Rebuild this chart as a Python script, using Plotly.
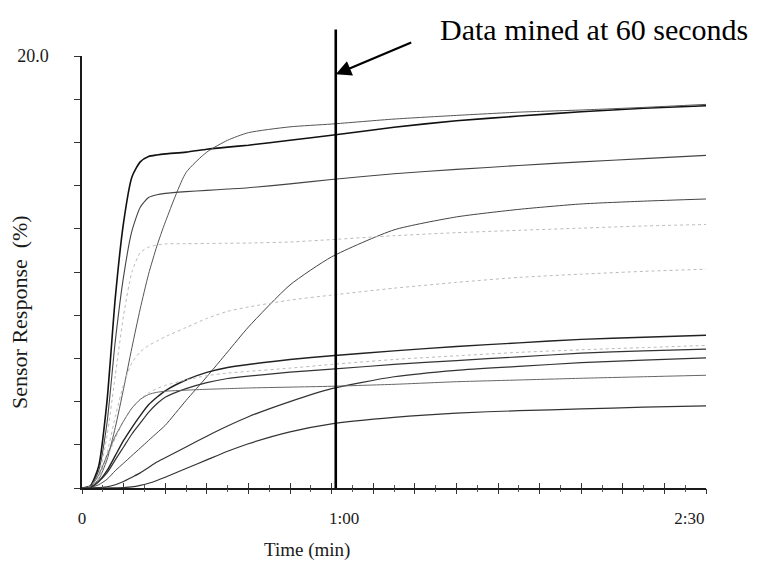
import plotly.graph_objects as go

# Time in seconds
T = [0, 2, 4, 6, 8, 10, 12, 14, 16, 18, 20, 25, 30, 35, 40, 50, 60, 75, 90, 105, 120, 135, 150]

A = [0, 0.1, 1.0, 4.0, 8.8, 12.3, 14.4, 15.1, 15.35, 15.42, 15.47, 15.55, 15.68, 15.78, 15.87, 16.1, 16.33, 16.7, 17.0, 17.22, 17.42, 17.58, 17.7]
B = [0, 0.05, 0.4, 1.3, 2.8, 4.6, 6.5, 8.3, 9.9, 11.2, 12.3, 14.6, 15.55, 16.1, 16.45, 16.72, 16.85, 17.08, 17.25, 17.4, 17.5, 17.62, 17.76]
C = [0, 0.08, 0.8, 3.0, 6.8, 9.8, 11.9, 13.0, 13.45, 13.58, 13.64, 13.72, 13.78, 13.84, 13.9, 14.08, 14.28, 14.55, 14.75, 14.93, 15.1, 15.25, 15.4]
D = [0, 0.02, 0.15, 0.4, 0.8, 1.15, 1.5, 1.85, 2.2, 2.55, 2.9, 4.05, 5.15, 6.3, 7.45, 9.4, 10.7, 11.95, 12.55, 12.9, 13.15, 13.28, 13.38]
E = [0, 0.08, 0.6, 2.4, 5.2, 8.0, 10.0, 10.9, 11.15, 11.25, 11.3, 11.31, 11.32, 11.33, 11.34, 11.39, 11.5, 11.68, 11.82, 11.93, 12.03, 12.13, 12.2]
F = [0, 0.05, 0.4, 1.6, 3.3, 4.8, 5.8, 6.3, 6.6, 6.8, 7.0, 7.43, 7.85, 8.18, 8.38, 8.7, 8.93, 9.25, 9.52, 9.75, 9.9, 10.03, 10.13]
G = [0, 0.03, 0.3, 0.8, 1.5, 2.2, 2.8, 3.35, 3.85, 4.2, 4.5, 5.0, 5.35, 5.58, 5.72, 5.95, 6.12, 6.35, 6.55, 6.72, 6.88, 6.98, 7.07]
H = [0, 0.03, 0.5, 1.4, 2.3, 3.1, 3.7, 4.1, 4.4, 4.6, 4.75, 5.0, 5.2, 5.32, 5.4, 5.55, 5.72, 5.95, 6.12, 6.28, 6.4, 6.5, 6.6]
I = [0, 0.02, 0.3, 0.7, 1.3, 1.9, 2.5, 3.0, 3.5, 3.9, 4.2, 4.6, 4.88, 5.07, 5.18, 5.36, 5.5, 5.72, 5.9, 6.07, 6.24, 6.35, 6.43]
J = [0, 0.0, 0.02, 0.05, 0.15, 0.3, 0.5, 0.7, 0.95, 1.2, 1.4, 1.9, 2.4, 2.87, 3.3, 4.0, 4.6, 5.15, 5.45, 5.63, 5.8, 5.92, 6.02]
K = [0, 0.05, 0.6, 1.5, 2.4, 3.1, 3.7, 4.1, 4.33, 4.43, 4.48, 4.53, 4.57, 4.6, 4.63, 4.67, 4.71, 4.8, 4.92, 5.0, 5.08, 5.15, 5.22]
L = [0, 0, 0, 0, 0.01, 0.02, 0.05, 0.12, 0.22, 0.35, 0.5, 0.9, 1.3, 1.7, 2.05, 2.6, 2.97, 3.27, 3.47, 3.58, 3.66, 3.74, 3.8]

SERIES = [A, B, C, D, E, F, G, H, I, J, K, L]
STYLES = [
    ("#111111", 1.6, "solid"),
    ("#555555", 1.0, "solid"),
    ("#444444", 1.1, "solid"),
    ("#444444", 1.0, "solid"),
    ("#bbbbbb", 1.0, "dot"),
    ("#bbbbbb", 1.0, "dot"),
    ("#222222", 1.4, "solid"),
    ("#bbbbbb", 1.0, "dot"),
    ("#333333", 1.2, "solid"),
    ("#333333", 1.2, "solid"),
    ("#666666", 1.0, "solid"),
    ("#333333", 1.2, "solid"),
]

X_TICK_POS = [0, 63, 146]
X_TICK_TEXT = ["0", "1:00", "2:30"]
Y_TICKS = [0, 2, 4, 6, 8, 10, 12, 14, 16, 18, 20]
Y_TICK_TEXT = ["", "", "", "", "", "", "", "", "", "", "20.0"]
MINED_AT = 61

SERIF = "Liberation Serif, Times New Roman, serif"
INK = "#1a1a1a"

# page body adds an 8px offset; compensate
OFF = 8
PL, PR, PT, PB = 82 - OFF, 706 - OFF, 56 - OFF, 488 - OFF
W, H_ = 763 - OFF, 562 - OFF
PW, PH = PR - PL, PB - PT


def px(xp):
    return (xp - OFF - PL) / PW


def py(yp):
    return (PB - (yp - OFF)) / PH


fig = go.Figure()
for s, (c, w, d) in zip(SERIES, STYLES):
    fig.add_trace(go.Scatter(x=T, y=s, mode="lines",
                             line=dict(color=c, width=w, dash=d, shape="spline", smoothing=0.6),
                             showlegend=False, hoverinfo="skip"))
# helper invisible traces so the overlay axes are drawn
for ax in ["x2", "x3"]:
    fig.add_trace(go.Scatter(x=[0, 150], y=[0, 0], xaxis=ax, mode="none",
                             showlegend=False, hoverinfo="skip"))

common_x = dict(range=[0, 150], showgrid=False, zeroline=False, fixedrange=True)
fig.update_layout(
    width=W, height=H_,
    margin=dict(l=PL, r=W - PR, t=PT, b=H_ - PB, autoexpand=False),
    paper_bgcolor="white", plot_bgcolor="white",
    font=dict(family=SERIF, color=INK),
    xaxis=dict(**common_x, showline=True, linecolor=INK, linewidth=2,
               tickmode="array", tickvals=X_TICK_POS, ticktext=X_TICK_TEXT,
               ticks="", tickfont=dict(size=17, family=SERIF, color=INK),
               ticklabelstandoff=14),
    xaxis2=dict(**common_x, overlaying="x", anchor="y", side="bottom",
                showline=False, showticklabels=False,
                tickmode="linear", tick0=0, dtick=10, ticks="outside", ticklen=5,
                tickwidth=1, tickcolor="#333",
                minor=dict(dtick=5, tick0=0, ticks="outside", ticklen=3, tickwidth=1, tickcolor="#555")),
    xaxis3=dict(**common_x, overlaying="x", anchor="y", side="bottom",
                showline=False, showticklabels=False,
                tickmode="linear", tick0=0, dtick=10, ticks="inside", ticklen=5,
                tickwidth=1, tickcolor="#333",
                minor=dict(dtick=5, tick0=0, ticks="inside", ticklen=3, tickwidth=1, tickcolor="#555")),
    yaxis=dict(range=[0, 20], showgrid=False, zeroline=False, fixedrange=True,
               showline=True, linecolor=INK, linewidth=1.5,
               tickmode="array", tickvals=Y_TICKS, ticktext=Y_TICK_TEXT,
               ticks="outside", ticklen=6, tickwidth=1, tickcolor="#333",
               tickfont=dict(size=18, family=SERIF, color=INK),
               ticklabelstandoff=22),
)

# vertical line at the mining time
fig.add_annotation(x=MINED_AT, y=0, ax=MINED_AT, ay=21.3, xref="x", yref="y",
                   axref="x", ayref="y", text="", showarrow=True, arrowhead=0,
                   arrowwidth=2.6, arrowcolor="#000", standoff=0, startstandoff=0)
# callout arrow
fig.add_annotation(x=MINED_AT, y=19.15, ax=79.5, ay=20.65, xref="x", yref="y",
                   axref="x", ayref="y", text="", showarrow=True, arrowhead=2,
                   arrowsize=1.4, arrowwidth=2.2, arrowcolor="#000", standoff=0, startstandoff=0)
fig.add_annotation(text="Data mined at 60 seconds", xref="paper", yref="paper",
                   x=px(594), y=py(29), xanchor="center", yanchor="middle",
                   showarrow=False, font=dict(size=30, family=SERIF, color="#000"))
fig.add_annotation(text="Time (min)", xref="paper", yref="paper",
                   x=px(307), y=py(550), xanchor="center", yanchor="middle",
                   showarrow=False, font=dict(size=19, family=SERIF, color=INK))
fig.add_annotation(text="Sensor Response  (%)", xref="paper", yref="paper",
                   x=px(19), y=py(312), xanchor="center", yanchor="middle",
                   textangle=-90, showarrow=False, font=dict(size=22, family=SERIF, color=INK))

fig.write_html("out.html")
